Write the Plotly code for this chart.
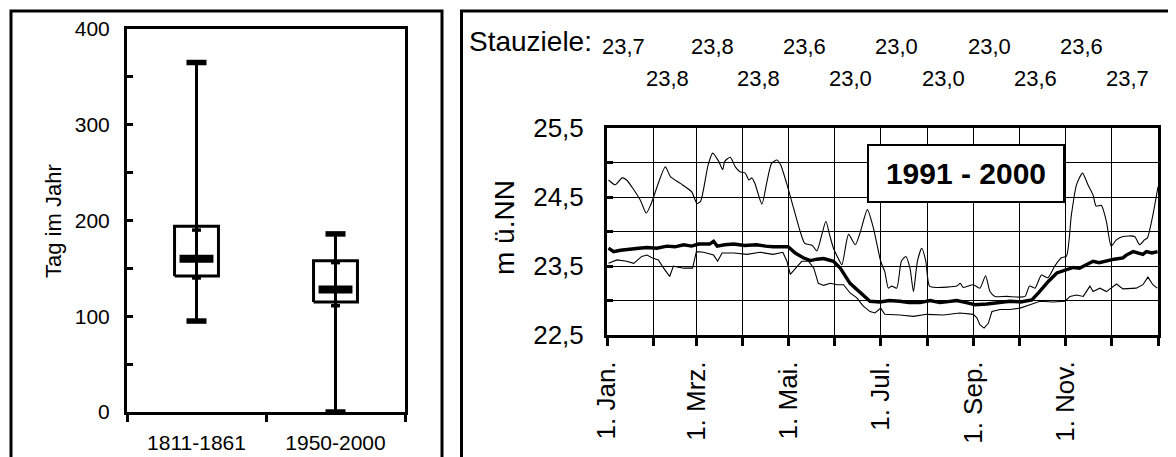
import plotly.graph_objects as go
import numpy as np

# ---------------- data: left panel (box statistics, day of year) ----------------
periods = ["1811-1861", "1950-2000"]
minimum = [95, 0]
lower_inner = [140, 111]
q1 = [142, 115]
median = [160, 128]
q3 = [194, 158]
upper_inner = [190, 156]
maximum = [365, 186]

# ---------------- data: right panel (water level, m ü.NN, by day of year) -------
max_days = [1, 5.5, 10, 13, 22, 26, 29, 38.6, 42, 48.6, 56, 59.6, 62, 67, 70, 74, 76.6, 78, 81.7, 85, 88,
            91.6, 94, 96, 98, 102.6, 106, 109, 112.6, 115, 119, 123.6, 128, 131, 136, 139, 142, 145, 147.5,
            150, 153, 155.6, 160, 164.5, 167.6, 172.5, 176.5, 181.3, 184, 186.4, 188.6, 191.9, 195, 198,
            200.7, 203, 205.6, 208.5, 211.2, 213.6, 218.5, 231.7, 234, 236, 242.7, 247, 250.8, 253.7, 257,
            264.7, 273.5, 276.9, 280, 283.5, 287.8, 292, 296.6, 301, 304.3, 307.6, 311, 315, 318.6, 322,
            324, 327.5, 330.8, 334, 337.4, 341.8, 349.5, 352.8, 356, 358, 361.6, 365]
max_vals = [24.75, 24.68, 24.78, 24.75, 24.46, 24.27, 24.39, 24.94, 24.80, 24.70, 24.58, 24.41, 24.44, 24.97,
            25.14, 25.02, 24.90, 25.02, 25.08, 24.94, 24.87, 24.85, 24.75, 24.78, 24.70, 24.40, 24.73, 24.99,
            25.04, 24.97, 24.70, 24.34, 24.00, 23.83, 23.80, 23.72, 23.93, 24.15, 23.95, 23.76, 23.62, 23.52,
            23.96, 23.81, 23.98, 24.32, 24.05, 23.57, 23.42, 23.18, 23.21, 23.18, 23.57, 23.64, 23.47, 23.13,
            23.57, 23.76, 23.57, 23.21, 23.19, 23.21, 23.25, 23.19, 23.23, 23.18, 23.36, 23.13, 23.06, 23.06,
            23.05, 23.06, 23.21, 23.18, 23.37, 23.33, 23.50, 23.62, 23.64, 24.24, 24.68, 24.85, 24.68, 24.53,
            24.37, 24.38, 24.15, 23.79, 23.88, 23.93, 23.93, 23.81, 23.88, 23.91, 24.24, 24.65]

mean_days = [1, 4.4, 9, 15.5, 21, 26.5, 33, 39.7, 45, 50.8, 56, 60.7, 68, 70.6, 73, 78, 84, 91, 99, 105, 110,
             120, 124.7, 130, 134.7, 139, 143.5, 150, 154.5, 161, 166.7, 174.2, 180.8, 187, 194, 200, 207.4,
             214, 220.6, 226, 231.7, 238, 243.8, 251.6, 259, 267, 274, 281.4, 285.8, 292.5, 298, 302.3, 308.9,
             313, 317.7, 322, 326, 330.8, 336, 341.8, 344, 348.5, 352, 355, 357.3, 361, 364.7]
mean_vals = [23.76, 23.71, 23.73, 23.74, 23.76, 23.77, 23.76, 23.79, 23.78, 23.81, 23.79, 23.82, 23.82, 23.86,
             23.79, 23.81, 23.82, 23.80, 23.81, 23.79, 23.78, 23.78, 23.69, 23.62, 23.58, 23.60, 23.61, 23.57,
             23.47, 23.25, 23.14, 22.99, 22.98, 23.00, 22.99, 22.97, 22.97, 23.00, 22.97, 22.99, 23.00, 22.97,
             22.94, 22.95, 22.97, 22.99, 22.98, 23.01, 23.11, 23.28, 23.40, 23.43, 23.48, 23.47, 23.52, 23.57,
             23.55, 23.58, 23.60, 23.62, 23.66, 23.71, 23.69, 23.67, 23.71, 23.69, 23.71]

min_days = [1, 6.6, 13, 17.7, 23, 26.5, 29.8, 34, 37.5, 41.5, 44, 50.8, 56.7, 59.2, 64, 70.6, 73.3, 76.2, 84,
            92.7, 101.5, 110, 116.5, 119.2, 121.4, 124.7, 129, 133.5, 137, 140, 143.5, 148, 152.3, 156.7,
            161, 165.5, 169.8, 174.2, 177.5, 181.3, 184, 194, 203, 211.8, 222.8, 233.8, 242.7, 245, 247,
            249.8, 252.6, 255, 260.4, 267, 273.6, 280.2, 286.8, 295.6, 303.4, 306.7, 311, 315.5, 319.9, 322,
            326.5, 330.8, 337.5, 341.8, 350.6, 355, 358.3, 361.6, 364.5]
min_vals = [23.54, 23.59, 23.57, 23.54, 23.64, 23.66, 23.62, 23.59, 23.47, 23.35, 23.50, 23.47, 23.47, 23.71,
            23.70, 23.66, 23.57, 23.69, 23.69, 23.67, 23.70, 23.67, 23.70, 23.57, 23.38, 23.47, 23.57, 23.57,
            23.47, 23.25, 23.22, 23.25, 23.23, 23.23, 23.11, 23.04, 22.92, 22.84, 22.82, 22.89, 22.80, 22.79,
            22.77, 22.80, 22.79, 22.82, 22.80, 22.75, 22.65, 22.60, 22.67, 22.84, 22.87, 22.87, 22.89, 22.94,
            22.99, 22.98, 22.99, 23.06, 23.08, 23.06, 23.21, 23.13, 23.18, 23.13, 23.24, 23.17, 23.18, 23.23,
            23.34, 23.23, 23.18]

month_start_days = [0, 31, 59, 90, 120, 151, 181, 212, 243, 273, 304, 334, 365]
month_labels = ["1. Jan.", "", "1. Mrz.", "", "1. Mai.", "", "1. Jul.", "", "1. Sep.", "", "1. Nov.", "", ""]
stauziele = ["23,7", "23,8", "23,8", "23,8", "23,6", "23,0", "23,0", "23,0", "23,0", "23,6", "23,6", "23,7"]
period_label = "1991 - 2000"

# ---------------- figure ----------------
OFF = 8                      # page body margin
W, H = 1176 - OFF, 457 - OFF
FONT = "Arial, Liberation Sans, sans-serif"
fig = go.Figure()

# left panel drawn from statistics
box_hw, med_hw, cap_hw, inner_hw = 0.158, 0.122, 0.072, 0.032
for i, name in enumerate(periods):
    c = i + 1
    fig.add_trace(go.Scatter(x=[c, c], y=[minimum[i], maximum[i]], mode="lines",
                             line=dict(color="black", width=3), xaxis="x", yaxis="y",
                             showlegend=False, hoverinfo="skip"))
    fig.add_trace(go.Scatter(x=[c - box_hw, c + box_hw, c + box_hw, c - box_hw, c - box_hw],
                             y=[q1[i], q1[i], q3[i], q3[i], q1[i]], mode="lines",
                             line=dict(color="black", width=3), xaxis="x", yaxis="y",
                             showlegend=False, hoverinfo="skip"))
    for v in (minimum[i], maximum[i]):
        fig.add_trace(go.Scatter(x=[c - cap_hw, c + cap_hw], y=[v, v], mode="lines",
                                 line=dict(color="black", width=5.5), xaxis="x", yaxis="y",
                                 showlegend=False, hoverinfo="skip"))
    for v in (lower_inner[i], upper_inner[i]):
        fig.add_trace(go.Scatter(x=[c - inner_hw, c + inner_hw], y=[v, v], mode="lines",
                                 line=dict(color="black", width=3.5), xaxis="x", yaxis="y",
                                 showlegend=False, hoverinfo="skip"))
    fig.add_trace(go.Scatter(x=[c - med_hw, c + med_hw], y=[median[i], median[i]], mode="lines",
                             line=dict(color="black", width=8), xaxis="x", yaxis="y",
                             showlegend=False, hoverinfo="skip"))

# right panel lines
fig.add_trace(go.Scatter(x=max_days, y=max_vals, mode="lines",
                         line=dict(color="black", width=1.1, shape="spline", smoothing=0.6),
                         xaxis="x2", yaxis="y2", showlegend=False))
fig.add_trace(go.Scatter(x=min_days, y=min_vals, mode="lines", line=dict(color="black", width=1.1),
                         xaxis="x2", yaxis="y2", showlegend=False))
fig.add_trace(go.Scatter(x=mean_days, y=mean_vals, mode="lines", line=dict(color="black", width=3.4),
                         xaxis="x2", yaxis="y2", showlegend=False))


def px_x(p):
    return (p - OFF) / W


def px_y(p):
    return 1 - (p - OFF) / H


fig.update_layout(
    template="none",
    width=W, height=H, margin=dict(l=0, r=0, t=0, b=0, autoexpand=False),
    paper_bgcolor="white", plot_bgcolor="white",
    font=dict(family=FONT, color="black"),
    separators=", ",
    xaxis=dict(domain=[px_x(127), px_x(405)], range=[0.5, 2.5], automargin=False,
               tickvals=[1, 2], ticktext=periods, ticks="outside", ticklen=0,
               tickfont=dict(size=21), ticklabelstandoff=10,
               minor=dict(tick0=0.5, dtick=1, ticks="outside", ticklen=7, tickwidth=2.5, tickcolor="black"),
               showline=True, linewidth=3, linecolor="black", mirror=True,
               showgrid=False, zeroline=False, fixedrange=True),
    yaxis=dict(domain=[px_y(412), px_y(29)], range=[0, 400], automargin=False,
               tickvals=[0, 100, 200, 300, 400], ticks="inside", ticklen=6, tickwidth=2.5, tickcolor="black",
               tickfont=dict(size=21), ticklabelstandoff=10,
               minor=dict(dtick=50, ticks="inside", ticklen=6, tickwidth=2.5, tickcolor="black"),
               showline=True, linewidth=3, linecolor="black", mirror=True,
               showgrid=False, zeroline=False),
    xaxis2=dict(domain=[px_x(607), px_x(1158)], range=[0, 365], anchor="y2", automargin=False,
                tickmode="array", tickvals=month_start_days, ticktext=month_labels,
                tickangle=-90, ticks="outside", ticklen=8, tickwidth=2.5, tickcolor="black",
                tickfont=dict(size=26), ticklabelstandoff=5,
                showline=True, linewidth=3, linecolor="black", mirror=True,
                showgrid=True, gridcolor="black", gridwidth=1, zeroline=False),
    yaxis2=dict(domain=[px_y(335), px_y(128.3)], range=[22.5, 25.5], anchor="x2", automargin=False,
                tick0=22.5, dtick=1, tickformat=".1f",
                ticks="inside", ticklen=6, tickwidth=2.5, tickcolor="black",
                tickfont=dict(size=26), ticklabelstandoff=15,
                minor=dict(dtick=0.5, tick0=22.5, ticks="inside", ticklen=6, tickwidth=2.5, tickcolor="black",
                           showgrid=True, gridcolor="black", gridwidth=1),
                showline=True, linewidth=3, linecolor="black", mirror=True,
                showgrid=True, gridcolor="black", gridwidth=1, zeroline=False),
)

# outer frames
fig.add_shape(type="rect", xref="paper", yref="paper", x0=px_x(11), x1=px_x(442), y0=-0.2, y1=px_y(11),
              line=dict(color="black", width=3), layer="above")
fig.add_shape(type="rect", xref="paper", yref="paper", x0=px_x(461.5), x1=1.2, y0=-0.2, y1=px_y(11),
              line=dict(color="black", width=3), layer="above")

# axis titles
fig.add_annotation(text="Tag im Jahr", xref="paper", yref="paper", x=px_x(53), y=px_y(221),
                   xanchor="center", yanchor="middle",
                   textangle=-90, showarrow=False, font=dict(size=22))
fig.add_annotation(text="m ü.NN", xref="paper", yref="paper", x=px_x(505), y=px_y(228),
                   xanchor="center", yanchor="middle",
                   textangle=-90, showarrow=False, font=dict(size=28))

# Stauziele
fig.add_annotation(text="Stauziele:", xref="paper", yref="paper", x=px_x(530.5), y=px_y(41),
                   xanchor="center", yanchor="middle", showarrow=False, font=dict(size=28))
for m, val in enumerate(stauziele):
    mid = (month_start_days[m] + month_start_days[m + 1]) / 2
    row_y = 46.5 if m % 2 == 0 else 78
    fig.add_annotation(text=val, xref="x2", yref="paper", x=mid, y=px_y(row_y), xshift=-7,
                       xanchor="center", yanchor="middle", showarrow=False, font=dict(size=22))

# period box
fig.add_annotation(text="<b>%s</b>" % period_label, xref="paper", yref="paper", x=px_x(966), y=px_y(173.5),
                   xanchor="center", yanchor="middle",
                   showarrow=False, font=dict(size=30), bgcolor="white", bordercolor="black",
                   borderwidth=2, borderpad=0, width=194, height=55)

fig.write_html("out.html")
